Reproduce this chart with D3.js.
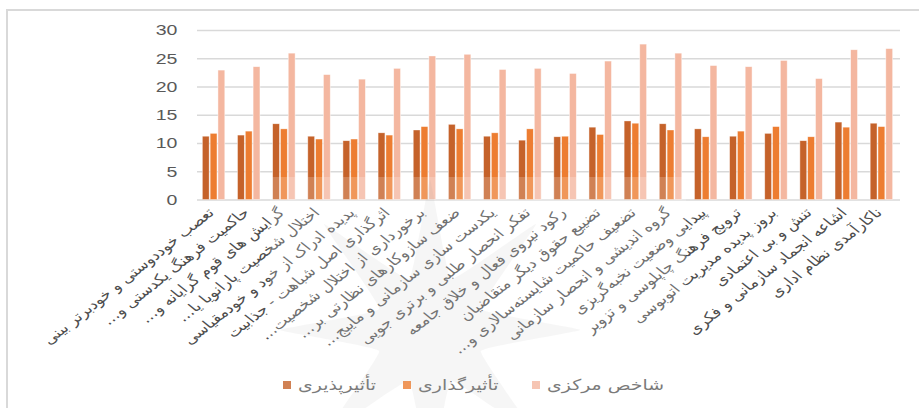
<!DOCTYPE html>
<html>
<head>
<meta charset="utf-8">
<script src="https://cdn.jsdelivr.net/npm/d3@7"></script>
<style>
  body { margin: 0; background: #fff; }
  svg { display: block; }
</style>
</head>
<body>
<div id="chart"></div>
<script>
(function(){
    /* data */
    const categories = [
      "تعصب خوددوستی و خودبرتر بینی",
      "حاکمیت فرهنگ یکدستی و…",
      "گرایش های قوم گرایانه و…",
      "اختلال شخصیت پارانویا یا…",
      "پدیده ادراک از خود و خودمقیاسی",
      "اثرگذاری اصل شباهت - جذابیت",
      "برخورداری از اختلال شخصیت…",
      "ضعف سازوکارهای نظارتی بر…",
      "یکدست سازی سازمانی و مایبج…",
      "تفکر انحصار طلبی و برتری جویی",
      "رکود نیروی فعال و خلاق جامعه",
      "تضییع حقوق دیگر متقاضیان",
      "تضعیف حاکمیت شایسته‌سالاری و…",
      "گروه اندیشی و انحصار سازمانی",
      "پیدایی وضعیت نخبه‌گریزی",
      "ترویج فرهنگ چاپلوسی و تزویر",
      "بروز پدیده مدیریت اتوبوسی",
      "تنش و بی اعتمادی",
      "اشاعه انجماد سازمانی و فکری",
      "ناکارآمدی نظام اداری"
    ];
    const seriesNames = ["تأثیرپذیری", "تأثیرگذاری", "شاخص مرکزی"];
    const influenced = [11.2, 11.4, 13.4, 11.2, 10.4, 11.8, 12.3, 13.3, 11.2, 10.5,
                        11.1, 12.8, 13.9, 13.4, 12.5, 11.2, 11.7, 10.4, 13.7, 13.5];
    const influencing = [11.7, 12.1, 12.5, 10.7, 10.7, 11.4, 12.9, 12.5, 11.8, 12.5,
                         11.2, 11.5, 13.5, 12.3, 11.1, 12.1, 12.9, 11.1, 12.8, 12.9];
    const centrality = [22.9, 23.5, 25.9, 22.1, 21.3, 23.2, 25.4, 25.7, 23.0, 23.2,
                        22.3, 24.5, 27.5, 25.9, 23.7, 23.5, 24.6, 21.4, 26.5, 26.7];
    const yTicks = [0, 5, 10, 15, 20, 25, 30];
    const colors = ["#C5622A", "#ED7D31", "#F4B7A0"];

    /* the picture is stretched sideways, so draw in a squeezed frame and scale x back */
    const W = 919, H = 408, SX = 1.26;
    const margin = {top: 30, right: W - 900, bottom: H - 199.5, left: 197};

    const rows = categories.map((c, i) => ({
      cat: c, values: [influenced[i], influencing[i], centrality[i]]
    }));

    const svg = d3.select("#chart").append("svg")
      .attr("width", W).attr("height", H);

    // outer frame
    svg.append("rect")
      .attr("x", 7).attr("y", 10)
      .attr("width", W + 20).attr("height", H + 20)
      .attr("fill", "#fff").attr("stroke", "#d9d9d9").attr("stroke-width", 2);

    const g = svg.append("g").attr("transform", `scale(${SX},1)`);

    const x0 = d3.scaleBand()
      .domain(categories)
      .range([margin.left / SX, (W - margin.right) / SX])
      .paddingInner(0).paddingOuter(0);
    const groupW = x0.bandwidth() * 0.64;
    const x1 = d3.scaleBand()
      .domain([0, 1, 2])
      .range([(x0.bandwidth() - groupW) / 2 - 0.8, (x0.bandwidth() + groupW) / 2 - 0.8])
      .paddingInner(0.12);
    const y = d3.scaleLinear()
      .domain([0, 30])
      .range([H - margin.bottom, margin.top]);

    // y axis with gridlines
    const yAxis = d3.axisLeft(y)
      .tickValues(yTicks)
      .tickSize(-(x0.range()[1] - x0.range()[0]))
      .tickPadding(15.5);
    const yG = g.append("g")
      .attr("transform", `translate(${x0.range()[0]},0)`)
      .call(yAxis);
    yG.select(".domain").remove();
    yG.selectAll(".tick line").attr("stroke", "#d9d9d9").attr("stroke-width", 1.6);
    yG.selectAll(".tick text")
      .attr("fill", "#595959")
      .style("font-family", "'Liberation Sans', Arial, sans-serif")
      .style("font-size", "15.5px");

    // bars
    const grp = g.append("g").selectAll("g.cat")
      .data(rows).join("g")
      .attr("class", "cat")
      .attr("transform", d => `translate(${x0(d.cat)},0)`);
    grp.selectAll("rect")
      .data(d => d.values.map((v, k) => ({k, v})))
      .join("rect")
      .attr("x", d => x1(d.k))
      .attr("width", x1.bandwidth())
      .attr("y", d => y(d.v))
      .attr("height", d => y(0) - y(d.v))
      .attr("fill", d => colors[d.k])
      .attr("stroke", "#fff")
      .attr("stroke-opacity", 0.6)
      .attr("stroke-width", 0.6);

    // category labels, rotated
    g.append("g").selectAll("text")
      .data(categories).join("text")
      .attr("transform", d => `translate(${x0(d) + x0.bandwidth() / 2 + 0.5},${y(0) + 14}) rotate(-45)`)
      .attr("direction", "rtl")
      .attr("text-anchor", "start")
      .attr("fill", "#4d4d4d")
      .style("font-family", "'DejaVu Sans', sans-serif")
      .style("font-size", "13.5px")
      .text(d => d);

    // legend
    const legendX = [283, 403, 532];
    const leg = g.append("g").selectAll("g")
      .data(seriesNames).join("g")
      .attr("transform", (d, i) => `translate(${legendX[i] / SX},381)`);
    leg.append("rect")
      .attr("width", 8 / SX).attr("height", 8)
      .attr("fill", (d, i) => colors[i]);
    leg.append("text")
      .attr("x", 15 / SX).attr("y", 8.5)
      .attr("direction", "rtl")
      .attr("text-anchor", "end")
      .attr("fill", "#595959")
      .style("font-family", "'DejaVu Sans', sans-serif")
      .style("font-size", "15px")
      .text(d => d);

    // faded watermark laid over the middle of the chart
    const wm = svg.append("g").attr("pointer-events", "none");
    wm.append("rect")
      .attr("x", 270).attr("y", 177).attr("width", 416).attr("height", 240)
      .attr("fill", "#fff").attr("opacity", 0.2);
    const star = d3.range(0, 16).map(i => [i * Math.PI / 8, i % 2 ? 55 : 150]);
    wm.append("path")
      .attr("transform", "translate(430,330)")
      .attr("d", d3.lineRadial().curve(d3.curveCardinalClosed.tension(0.75))(star))
      .attr("fill", "#9a9a9a").attr("opacity", 0.09);
})();
</script>
</body>
</html>
